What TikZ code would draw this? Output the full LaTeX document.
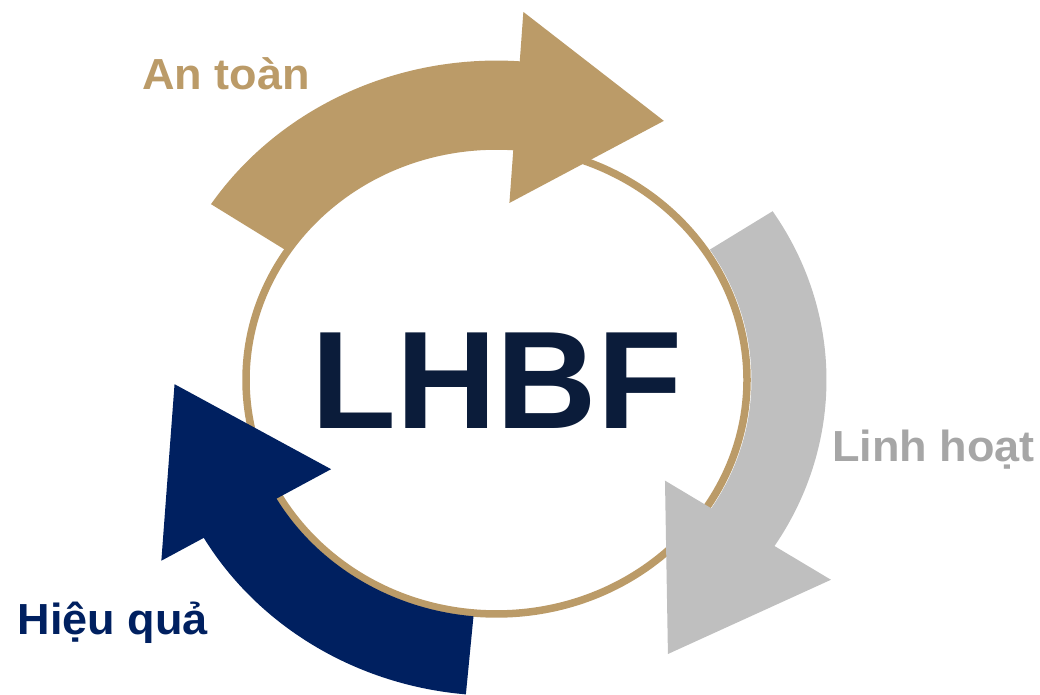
\documentclass[tikz,border=0pt]{standalone}
\usepackage{fontspec}
\setmainfont{Liberation Sans}
\definecolor{goldc}{RGB}{187,155,104}
\definecolor{grayarrow}{RGB}{191,191,191}
\definecolor{graytext}{RGB}{166,166,166}
\definecolor{navyc}{RGB}{0,32,96}
\definecolor{lhbfc}{RGB}{11,28,58}
\begin{document}
\begin{tikzpicture}[x=1pt,y=1pt,
  lbl/.style={anchor=base west, inner sep=0pt, xscale=1.035, transform shape, font=\bfseries\fontsize{43.5}{43.5}\selectfont},
  ring/.style={draw=goldc, line width=7.5pt, fill=white}]
\useasboundingbox (0,0) rectangle (1040,695);
\clip (0,0) rectangle (1040,695);
\begin{scope}[shift={(496.5,315)}, yscale=0.934]
  \path[ring] (0,0) circle[radius=250.5];
  % gold arrow (top)
  \fill[goldc] (146.6:342) arc[start angle=146.6, end angle=86.1, radius=342]
    -- (86.1:395) -- (58.9:324) -- (86.1:190) -- (86.1:253)
    arc[start angle=86.1, end angle=146.6, radius=253] -- cycle;
  % gray arrow (right)
  \fill[grayarrow] (33.2:330) arc[start angle=33.2, end angle=-32.6, radius=330]
    -- (-32.6:397) -- (-59.7:339.8) -- (-32.6:200) -- (-32.6:255)
    arc[start angle=-32.6, end angle=33.2, radius=255] -- cycle;
  % navy arrow (bottom left)
  \fill[navyc] (264.8:338) arc[start angle=264.8, end angle=210, radius=338]
    -- (210:387) -- (180.8:322) -- (210:191) -- (210:254)
    arc[start angle=210, end angle=264.8, radius=254] -- cycle;
\end{scope}
\node[anchor=base west, inner sep=0pt, text=lhbfc, font=\bfseries\fontsize{139}{139}\selectfont] (lhbf) at (311.5,266.7) {LHBF};
\node[lbl, text=goldc] (antoan) at (142,605) {An toàn};
\node[lbl, text=graytext] (linhhoat) at (832,233.3) {Linh hoạt};
\node[lbl, text=navyc] (hieuqua) at (17.7,60) {Hiệu quả};
\end{tikzpicture}
\end{document}
